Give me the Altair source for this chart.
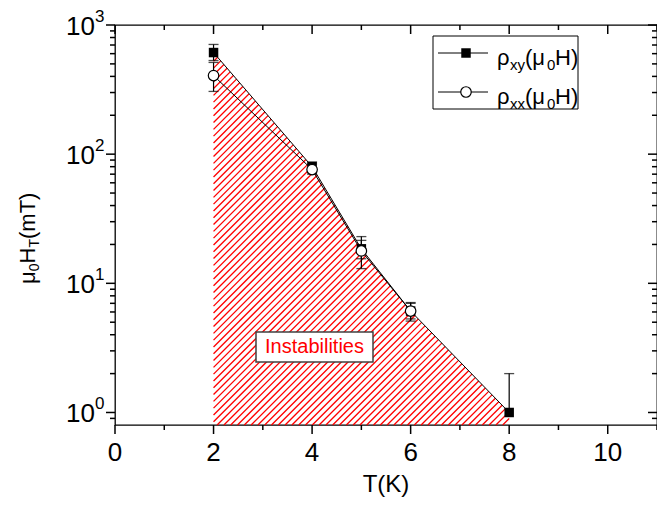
import numpy as np
import pandas as pd
import altair as alt

# ---------------- data ----------------
T_xy = [2, 4, 5, 6, 8]
H_xy = [612, 80, 18.5, 6.1, 1.0]
H_xy_lo = [531, 72, 15.5, 5.3, 1.0]
H_xy_hi = [707, 87, 21.5, 7.0, 2.0]

T_xx = [2, 4, 5, 6]
H_xx = [406, 76, 17.8, 6.1]
H_xx_lo = [306, 70, 13.0, 5.1]
H_xx_hi = [513, 84, 23.0, 7.1]

x_major = [0, 2, 4, 6, 8, 10]
x_minor = [1, 3, 5, 7, 9, 11]
y_major = [1, 10, 100, 1000]
y_minor = [0.9] + [m * 10 ** e for e in range(0, 3) for m in range(2, 10)]
x_labels = ["0", "2", "4", "6", "8", "10"]
y_label_base = ["10", "10", "10", "10"]
y_label_exp = ["0", "1", "2", "3"]

FONT = "Liberation Sans"
W, HGT = 542, 400
X_DOM = [0, 11]
Y_DOM = [0.8, 1000]

xscale = alt.Scale(domain=X_DOM, nice=False, zero=False)
yscale = alt.Scale(type="log", domain=Y_DOM, nice=False)

df_xy = pd.DataFrame({"T": T_xy, "H": H_xy, "lo": H_xy_lo, "hi": H_xy_hi})
df_xx = pd.DataFrame({"T": T_xx, "H": H_xx, "lo": H_xx_lo, "hi": H_xx_hi})

# ---------------- hatch segments (clipped to region under rho_xy) ----------------
L0, L1 = np.log10(Y_DOM[0]), np.log10(Y_DOM[1])
def to_px(x, y):
    return np.asarray(x, float) / X_DOM[1] * W, HGT * (L1 - np.log10(np.asarray(y, float))) / (L1 - L0)
def to_data(px, py):
    return px * X_DOM[1] / W, 10 ** (L1 - py * (L1 - L0) / HGT)

bx, by = to_px(T_xy, H_xy)
g = bx + by
spacing = 6.8
segs = []
c = g[0] + 2.0
while c < bx[-1] + HGT:
    pa = max(bx[0], c - HGT)
    pb = np.interp(c, g, bx) if c <= g[-1] else bx[-1]
    if pb > pa + 0.3:
        x1, y1 = to_data(pa, c - pa)
        x2, y2 = to_data(pb, c - pb)
        segs.append({"x1": x1, "y1": y1, "x2": x2, "y2": y2})
    c += spacing
df_hatch = pd.DataFrame(segs)

X = lambda f: alt.X(f, scale=xscale, axis=None)
Y = lambda f: alt.Y(f, scale=yscale, axis=None)

hatch = alt.Chart(df_hatch).mark_rule(color="#ff0000", strokeWidth=1.3).encode(
    x=X("x1:Q"), y=Y("y1:Q"), x2="x2:Q", y2="y2:Q"
)

line_xy = alt.Chart(df_xy).mark_line(color="black", strokeWidth=1).encode(x=X("T:Q"), y=Y("H:Q"))
line_xx = alt.Chart(df_xx).mark_line(color="black", strokeWidth=1).encode(x=X("T:Q"), y=Y("H:Q"))

def errbars(df):
    bar = alt.Chart(df).mark_rule(color="black", strokeWidth=1.2).encode(
        x=X("T:Q"), y=Y("lo:Q"), y2="hi:Q")
    cap_hi = alt.Chart(df).mark_tick(orient="horizontal", size=10, thickness=1.3, color="black").encode(
        x=X("T:Q"), y=Y("hi:Q"))
    cap_lo = alt.Chart(df[df["lo"] < df["H"]]).mark_tick(orient="horizontal", size=10, thickness=1.3, color="black").encode(
        x=X("T:Q"), y=Y("lo:Q"))
    return bar + cap_hi + cap_lo

pts_xy = alt.Chart(df_xy).mark_point(shape="square", filled=True, color="black", size=90, opacity=1).encode(
    x=X("T:Q"), y=Y("H:Q"))
pts_xx = alt.Chart(df_xx).mark_point(shape="circle", filled=True, fill="white", stroke="black",
                                     strokeWidth=1.2, size=110, opacity=1).encode(x=X("T:Q"), y=Y("H:Q"))

# ---------------- annotation "Instabilities" ----------------
P = lambda f: alt.X(f, scale=None, axis=None)
Q = lambda f: alt.Y(f, scale=None, axis=None)
one = pd.DataFrame({"a": [0]})
inst_box = alt.Chart(one).mark_rect(fill="white", stroke="#404040", strokeWidth=1.5).encode(
    x=alt.value(141), x2=alt.value(258), y=alt.value(307), y2=alt.value(337))
inst_txt = alt.Chart(one).mark_text(text="Instabilities", color="#ff0000", font=FONT, fontSize=20,
                                    align="center", baseline="middle").encode(
    x=alt.value(199.5), y=alt.value(322))

# ---------------- legend ----------------
leg_box = alt.Chart(one).mark_rect(fill="white", stroke="black", strokeWidth=1).encode(
    x=alt.value(318), x2=alt.value(463), y=alt.value(11), y2=alt.value(84))
leg_rows = pd.DataFrame({"xa": [323, 323], "xb": [373, 373], "y": [28, 67], "xm": [351, 351]})
leg_lines = alt.Chart(leg_rows).mark_rule(color="black", strokeWidth=1).encode(
    x=P("xa:Q"), x2="xb:Q", y=Q("y:Q"))
leg_sq = alt.Chart(leg_rows.iloc[[0]]).mark_point(shape="square", filled=True, color="black", size=90, opacity=1).encode(
    x=P("xm:Q"), y=Q("y:Q"))
leg_ci = alt.Chart(leg_rows.iloc[[1]]).mark_point(shape="circle", filled=True, fill="white", stroke="black",
                                                 strokeWidth=1.2, size=110, opacity=1).encode(x=P("xm:Q"), y=Q("y:Q"))
leg_pieces = []
for base, sub in [(40, "xy"), (79, "xx")]:
    leg_pieces += [
        {"px": 382, "py": base, "t": "ρ", "fs": 22},
        {"px": 395, "py": base + 5, "t": sub, "fs": 15},
        {"px": 410, "py": base, "t": "(μ", "fs": 22},
        {"px": 432, "py": base + 5, "t": "0", "fs": 15},
        {"px": 440, "py": base, "t": "H)", "fs": 22},
    ]
leg_txt = alt.Chart(pd.DataFrame(leg_pieces)).mark_text(font=FONT, align="left", baseline="alphabetic",
                                                        color="black").encode(
    x=P("px:Q"), y=Q("py:Q"), text="t:N", size=alt.Size("fs:Q", scale=None, legend=None))

# ---------------- y-axis title with subscripts (rotated) ----------------
yt = pd.DataFrame([
    {"px": -80, "py": 259, "t": "μ", "fs": 22},
    {"px": -76, "py": 246.3, "t": "0", "fs": 14},
    {"px": -80, "py": 238.5, "t": "H", "fs": 22},
    {"px": -76, "py": 222.6, "t": "T", "fs": 14},
    {"px": -80, "py": 214.0, "t": "(mT)", "fs": 22},
])
ytitle = alt.Chart(yt).mark_text(font=FONT, align="left", baseline="alphabetic", angle=270,
                                 color="black").encode(
    x=P("px:Q"), y=Q("py:Q"), text="t:N", size=alt.Size("fs:Q", scale=None, legend=None))

# ---------------- tick marks (outward bottom/left, inward top/right) ----------------
def yticks(vals, xa, xb):
    return alt.Chart(pd.DataFrame({"v": vals})).mark_rule(color="black", strokeWidth=1.5).encode(
        y=Y("v:Q"), x=alt.value(xa), x2=alt.value(xb))
def xticks(vals, ya, yb):
    return alt.Chart(pd.DataFrame({"v": vals})).mark_rule(color="black", strokeWidth=1.5).encode(
        x=X("v:Q"), y=alt.value(ya), y2=alt.value(yb))

tick_layers = [
    yticks(y_major, -9, 0), yticks(y_minor, -5, 0),
    yticks(y_major, W - 9, W), yticks(y_minor, W - 5, W),
    xticks(x_major, HGT, HGT + 9), xticks(x_minor, HGT, HGT + 5),
    xticks(x_major, 0, 9), xticks(x_minor, 0, 5),
]

# ---------------- tick labels and x title as text ----------------
df_xl = pd.DataFrame({"v": x_major, "t": x_labels})
xlab = alt.Chart(df_xl).mark_text(font=FONT, fontSize=26, align="center", baseline="alphabetic",
                                  color="black").encode(x=X("v:Q"), y=alt.value(HGT + 36), text="t:N")
df_yl = pd.DataFrame({"v": y_major, "b": y_label_base, "e": y_label_exp})
ylab_base = alt.Chart(df_yl).mark_text(font=FONT, fontSize=26, align="right", baseline="alphabetic",
                                       dy=10, color="black").encode(
    y=Y("v:Q"), x=alt.value(-20), text="b:N")
ylab_exp = alt.Chart(df_yl).mark_text(font=FONT, fontSize=17, align="left", baseline="alphabetic",
                                      dy=-3, color="black").encode(
    y=Y("v:Q"), x=alt.value(-20), text="e:N")
xtitle = alt.Chart(one).mark_text(text="T(K)", font=FONT, fontSize=24, align="center",
                                  baseline="alphabetic", color="black").encode(
    x=alt.value(W / 2), y=alt.value(HGT + 67))

chart = alt.layer(
    hatch, line_xy, line_xx, errbars(df_xy), errbars(df_xx), pts_xy, pts_xx,
    inst_box, inst_txt, leg_box, leg_lines, leg_sq, leg_ci, leg_txt, ytitle,
    *tick_layers, xlab, ylab_base, ylab_exp, xtitle,
).properties(
    width=W, height=HGT,
    autosize=alt.AutoSizeParams(type="none"),
    padding={"left": 107, "top": 17, "right": 0, "bottom": 72},
).configure_view(stroke="black", strokeWidth=1.3)

chart.save("out.html", embed_options={"renderer": "svg", "actions": False})
